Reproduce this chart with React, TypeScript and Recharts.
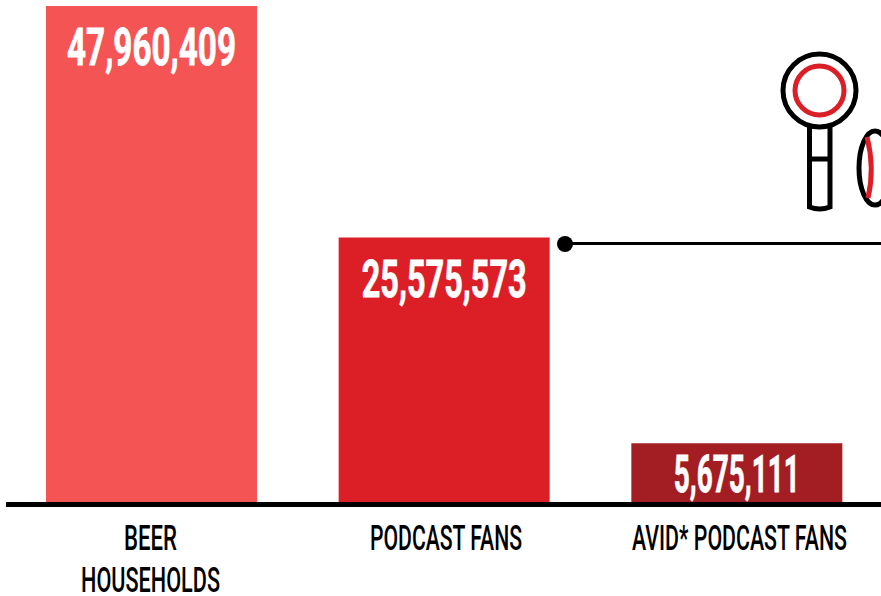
import { BarChart, Bar, XAxis, YAxis, Cell, LabelList } from "recharts";

const CATEGORIES = ["BEER HOUSEHOLDS", "PODCAST FANS", "AVID* PODCAST FANS"];
const VALUES = [47960409, 25575573, 5675111];
const COLORS = ["#F45554", "#DC1F26", "#A31E22"];

const data = CATEGORIES.map((name, i) => ({ name, value: VALUES[i] }));

const FONT = "Roboto, sans-serif";

// the narrow headline look comes from squeezing the glyphs to a set length
const TICK_LINES: Record<string, { text: string; length: number; dx: number }[]> = {
  "BEER HOUSEHOLDS": [
    { text: "BEER", length: 53, dx: -0.8 },
    { text: "HOUSEHOLDS", length: 139, dx: -0.8 },
  ],
  "PODCAST FANS": [{ text: "PODCAST FANS", length: 152, dx: 2 }],
  "AVID* PODCAST FANS": [{ text: "AVID* PODCAST FANS", length: 215, dx: 2.8 }],
};
const VALUE_LENGTHS = [169, 165, 126];

function CategoryTick({ x, payload }: any) {
  const lines = TICK_LINES[payload.value] ?? [];
  return (
    <g>
      {lines.map((line, i) => (
        <text
          key={line.text}
          x={x + line.dx}
          y={550 + i * 42}
          textAnchor="middle"
          fontFamily={FONT}
          fontWeight={500}
          fontSize={35}
          fill="#000"
          textLength={line.length}
          lengthAdjust="spacingAndGlyphs"
        >
          {line.text}
        </text>
      ))}
    </g>
  );
}

function ValueLabel({ x, y, width, height, value, index }: any) {
  // near the top of tall bars, vertically centred in short ones
  const baseline = y + Math.min(59, height / 2 + 19);
  return (
    <text
      x={x + width / 2}
      y={baseline}
      textAnchor="middle"
      fontFamily={FONT}
      fontWeight={700}
      fontSize={52}
      fill="#fff"
      stroke="#fff"
      strokeWidth={0.8}
      textLength={VALUE_LENGTHS[index]}
      lengthAdjust="spacingAndGlyphs"
    >
      {Number(value).toLocaleString("en-US")}
    </text>
  );
}

// connector and magnifier icons on the right
function Callout() {
  return (
    <svg
      width={881}
      height={596}
      style={{ position: "absolute", left: 0, top: 0, pointerEvents: "none" }}
    >
      <line x1={565} y1={243.5} x2={881} y2={243.5} stroke="#000" strokeWidth={3} />
      <circle cx={565} cy={244} r={8} fill="#000" />

      <path
        d="M809.5 125 V207 Q819.5 211 830 207 V125 M809.5 159 H830"
        fill="none"
        stroke="#000"
        strokeWidth={5}
      />
      <circle cx={819.5} cy={90.5} r={36.5} fill="#fff" stroke="#000" strokeWidth={5} />
      <circle cx={819.5} cy={90.5} r={24.5} fill="none" stroke="#DC1F26" strokeWidth={5} />

      <ellipse cx={875} cy={168} rx={16} ry={37} fill="#fff" stroke="#000" strokeWidth={5} />
      <path d="M867 137 Q875 168 868 198" fill="none" stroke="#DC1F26" strokeWidth={5} />
    </svg>
  );
}

export default function App() {
  return (
    <div
      style={{
        position: "absolute",
        left: 0,
        top: 0,
        width: 881,
        height: 596,
        overflow: "hidden",
        background: "#fff",
      }}
    >
      <BarChart
        width={883}
        height={596}
        data={data}
        barSize={211}
        margin={{ top: 6, right: 0, bottom: 0, left: 6 }}
      >
        <YAxis hide domain={[0, 47960409]} />
        <XAxis
          dataKey="name"
          height={94}
          interval={0}
          padding={{ left: -1, right: 0 }}
          tickLine={false}
          axisLine={{ stroke: "#000", strokeWidth: 5, transform: "translate(0 2.5)" }}
          tick={<CategoryTick />}
        />
        <Bar dataKey="value" isAnimationActive={false}>
          {data.map((d, i) => (
            <Cell key={d.name} fill={COLORS[i]} />
          ))}
          <LabelList dataKey="value" content={<ValueLabel />} />
        </Bar>
      </BarChart>
      <Callout />
    </div>
  );
}
